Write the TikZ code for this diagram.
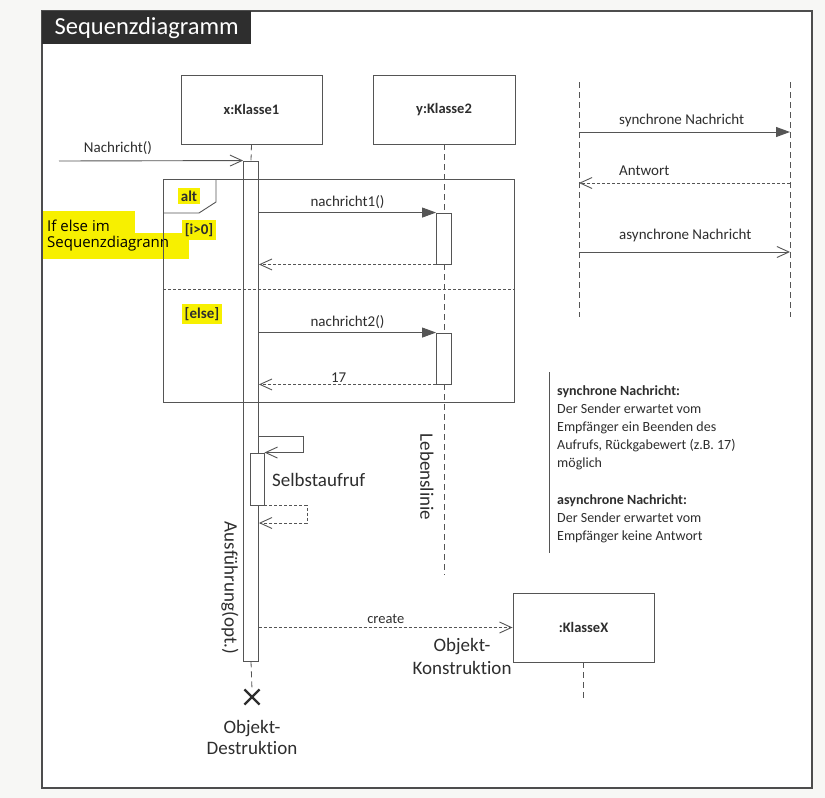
\documentclass[tikz,border=0pt]{standalone}
\usepackage{fontspec}
\setmainfont{Carlito}[Ligatures={NoCommon}]
\newfontfamily\notefont{Open Sans}
\usetikzlibrary{arrows.meta,shapes.misc}
\definecolor{ln}{HTML}{555555}
\definecolor{tx}{HTML}{2E2E2E}
\definecolor{hl}{HTML}{F7F000}
\definecolor{bg}{HTML}{F7F7F5}
\definecolor{hd}{HTML}{2E2E2E}
\begin{document}
\begin{tikzpicture}[x=1pt,y=-1pt,
  every node/.style={text=tx},
  obj/.style={draw=ln, line width=0.9pt, minimum width=141pt, minimum height=69pt, inner sep=0pt, font=\fontsize{14.5}{17}\selectfont\bfseries},
  act/.style={draw=ln, line width=0.9pt, minimum width=15pt, inner sep=0pt},
  life/.style={draw=ln, line width=0.8pt, dash pattern=on 6pt off 4pt},
  sync/.style={draw=ln, line width=0.9pt, -{Triangle[length=14pt,width=10pt]}},
  async/.style={draw=ln, line width=0.9pt, -{Straight Barb[length=12pt,width=11pt]}},
  reply/.style={async, dash pattern=on 3pt off 2pt},
  lbl/.style={font=\fontsize{15}{18}\selectfont, inner sep=1pt},
  small/.style={font=\fontsize{14.5}{17}\selectfont, inner sep=1pt},
  big/.style={font=\fontsize{19}{22}\selectfont, inner sep=1pt},
  hlbox/.style={fill=hl, font=\fontsize{15}{18}\selectfont\bfseries, inner sep=3pt},
]
\fill[bg] (0,0) rectangle (825,798);
\useasboundingbox (0,0) rectangle (825,798);

% frame
\fill[white] (42,11) rectangle (812,788);
\draw[hd!85, line width=1.6pt] (42,11) rectangle (812,788);
\node[fill=hd, anchor=north west, minimum width=209pt, minimum height=33pt, inner sep=0pt, text=white, font=\fontsize{24.5}{28}\selectfont] (hdr) at (42,11) {Sequenzdiagramm};

% yellow note
\fill[hl] (43,211) rectangle (135,233);
\fill[hl] (43,233) rectangle (189,259);
\node[anchor=base west, inner sep=0pt, text=black, font=\notefont\fontsize{15}{16}\selectfont] (note1) at (47,231) {If else im};
\node[anchor=base west, inner sep=0pt, text=black, font=\notefont\fontsize{15}{16}\selectfont] (note2) at (47,247) {Sequenzdiagrann};

% objects
\node[obj] (k1) at (251.5,109.5) {x:Klasse1};
\node[obj, minimum width=142pt] (k2) at (444,109.5) {y:Klasse2};
\coordinate (k2end) at (444,575);
\draw[life] (k2.south) -- (k2end);

% alt fragment
\draw[ln, line width=0.9pt] (163,179) rectangle (514,402);
\draw[ln, line width=0.9pt] (216,179) -- (216,202) -- (199,213) -- (163,213);
\draw[ln, line width=0.8pt, dash pattern=on 3pt off 2pt] (163,289) -- (514,289);
\node[hlbox] (alt) at (189,196) {alt};
\node[hlbox] (g1) at (199,230) {[i>0]};
\node[hlbox] (g2) at (202,314) {[else]};

% activations
\node[act, minimum height=500pt] (a1) at (251,411) {};
\draw[life] (k1.south) -- (a1.north);
\node[act, minimum height=51pt, fill=white] (a2) at (444,238.5) {};
\node[act, minimum height=51pt, fill=white] (a3) at (444,358.5) {};

% incoming message
\coordinate (start) at (59,161);
\draw[async] (start) -- (a1.north west) node[lbl, pos=0.32, above=5pt] {Nachricht()};

% messages in alt
\draw[sync] (a1.east |- a2.north west) -- (a2.north west) node[lbl, midway, above=3pt] {nachricht1()};
\draw[reply] (a2.south west) -- (a1.east |- a2.south west);
\draw[sync] (a1.east |- a3.north west) -- (a3.north west) node[lbl, midway, above=3pt] {nachricht2()};
\draw[reply] (a3.south west) -- (a1.east |- a3.south west) node[lbl, pos=0.55, above=1pt] {17};

% self call
\node[act, minimum width=14pt, minimum height=52pt, fill=white] (a4) at (257,479) {};
\coordinate (s1) at (303,436);
\coordinate (s2) at (307,523);
\draw[async] (a1.east |- s1) -- (s1) |- (a4.north east);
\draw[reply] (a4.south east) -| (s2) -- (a1.east |- s2);
\node[big, anchor=west] (selbst) at (271,480) {Selbstaufruf};

\node[big, rotate=-90] (leben) at (427,477) {Lebenslinie};
\node[big, rotate=-90] (ausf) at (230,588) {Ausführung(opt.)};

% destruction
\node[cross out, draw=hd, line width=2.2pt, minimum size=13pt, inner sep=0pt] (xx) at (252,697) {};
\draw[life] (a1.south) -- (xx.north);
\node[big, align=center, anchor=north] (destr) at (252,719) {Objekt-\\[-1pt]Destruktion};

% creation
\node[obj] (kx) at (583.5,627.5) {:KlasseX};
\coordinate (kxend) at (583.5,698);
\draw[life] (kx.south) -- (kxend);
\draw[reply] (a1.east |- kx.west) -- (kx.west) node[small, midway, above=2pt] {create};
\node[big, align=center] (konstr) at (462,656) {Objekt-\\[1pt]Konstruktion};

% legend
\coordinate (la) at (579,82);
\coordinate (lb) at (579,317);
\coordinate (ra) at (790,82);
\coordinate (rb) at (790,317);
\draw[life] (la) -- (lb);
\draw[life] (ra) -- (rb);
\coordinate (m1l) at (579,132); \coordinate (m1r) at (790,132);
\coordinate (m2l) at (579,183); \coordinate (m2r) at (790,183);
\coordinate (m3l) at (579,252); \coordinate (m3r) at (790,252);
\draw[sync] (m1l) -- (m1r);
\draw[reply] (m2r) -- (m2l);
\draw[async] (m3l) -- (m3r);
\node[lbl, anchor=west] (t1) at (618,120) {synchrone Nachricht};
\node[lbl, anchor=west] (t2) at (618,171) {Antwort};
\node[lbl, anchor=west] (t3) at (618,235) {asynchrone Nachricht};

\draw[ln, line width=0.9pt] (549,372) -- (549,553);
\node[anchor=north west, align=left, inner sep=0pt, font=\fontsize{14}{18.2}\selectfont] (txt) at (557,385)
 {\textbf{synchrone Nachricht:}\\ Der Sender erwartet vom\\ Empfänger ein Beenden des\\ Aufrufs, Rückgabewert (z.B. 17)\\ möglich\\[18.2pt] \textbf{asynchrone Nachricht:}\\ Der Sender erwartet vom\\ Empfänger keine Antwort};
\end{tikzpicture}
\end{document}
